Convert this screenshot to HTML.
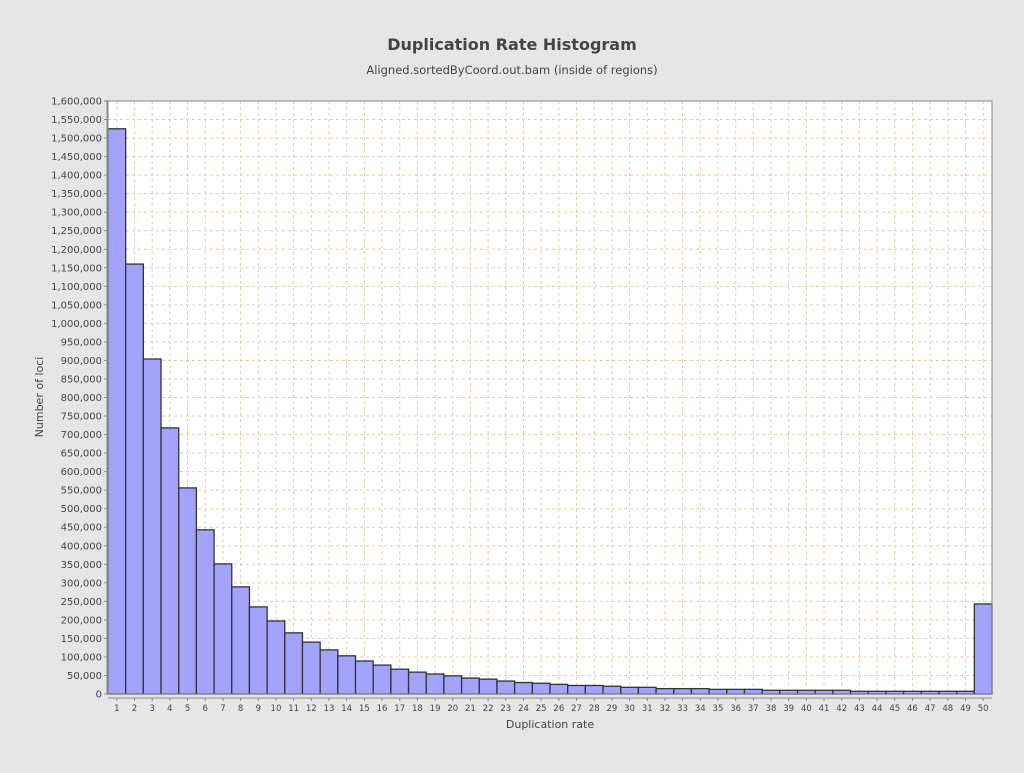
<!DOCTYPE html>
<html><head><meta charset="utf-8"><style>
body{margin:0;background:#e6e6e6;font-family:"Liberation Sans","DejaVu Sans",sans-serif;}
svg text{font-family:"DejaVu Sans","Liberation Sans",sans-serif;fill:#444;}
</style></head><body>
<svg id="chart" width="1024" height="768">
<rect width="1024" height="768" fill="#e6e6e6"/>
<text x="512" y="50" text-anchor="middle" font-size="16" font-weight="bold">Duplication Rate Histogram</text>
<text x="512" y="74" text-anchor="middle" font-size="11.5">Aligned.sortedByCoord.out.bam (inside of regions)</text>
<rect x="108" y="101" width="884" height="593" fill="#fff"/>
<g id="grid"></g><g id="bars"></g><g id="yaxis"></g><g id="xaxis"></g>
<rect x="108" y="101" width="884" height="593" fill="none" stroke="#888"/>
<text x="550" y="728" text-anchor="middle" font-size="11">Duplication rate</text>
<text transform="translate(43,397) rotate(-90)" text-anchor="middle" font-size="11">Number of loci</text>
</svg>
<script>
const categories=[1,2,3,4,5,6,7,8,9,10,11,12,13,14,15,16,17,18,19,20,21,22,23,24,25,26,27,28,29,30,31,32,33,34,35,36,37,38,39,40,41,42,43,44,45,46,47,48,49,50];
const values=[1525000,1160000,904000,718000,556000,443000,351000,289000,235000,197000,165000,140000,119000,103000,89000,78000,67000,59000,54000,49000,43000,40000,35000,31000,29000,26000,23000,23000,21000,18000,18000,14500,14500,14500,12500,12500,12500,10000,10000,10000,10000,10000,7300,7300,7300,7300,7300,7300,7300,243000];
const yTicks=[];for(let v=0;v<=1600000;v+=50000)yTicks.push(v);
const NS='http://www.w3.org/2000/svg';
const X0=108,X1=992,Y0=694,Y1=101,YMAX=1600000;
const bw=(X1-X0)/categories.length;
const xs=i=>X0+i*bw, ys=v=>Y0-(v/YMAX)*(Y0-Y1);
function mk(t,a,p){const e=document.createElementNS(NS,t);for(const k in a)e.setAttribute(k,a[k]);p.appendChild(e);return e;}
const grid=document.getElementById('grid'),bars=document.getElementById('bars'),ya=document.getElementById('yaxis'),xa=document.getElementById('xaxis');
yTicks.forEach(v=>{const y=ys(v);
 const g=mk('line',{x1:X0,x2:X1,y1:y,y2:y,stroke:(v%100000===0)?'#f0c8a8':'#d0d0d0','stroke-dasharray':'3,3'},grid);
 
 
 mk('line',{x1:X0-4,x2:X0,y1:y,y2:y,stroke:'#888'},ya);
 const t=mk('text',{x:X0-6,y:y+3.5,'text-anchor':'end','font-size':'10'},ya);t.textContent=v.toLocaleString('en-US');
 
 
});
mk('line',{x1:X0-1,x2:X0-1,y1:Y1,y2:Y0,stroke:'#888'},ya);
mk('line',{x1:X0,x2:X1,y1:Y0+4,y2:Y0+4,stroke:'#888'},xa);
categories.forEach((c,i)=>{const cx=xs(i)+bw/2;
 const g=mk('line',{x1:cx,x2:cx,y1:Y1,y2:Y0,stroke:'#f0c8a8','stroke-dasharray':'3,3'},grid);
 
 
 const b=mk('rect',{x:xs(i),y:ys(values[i]),width:bw,height:Y0-ys(values[i]),fill:'#a3a3fc',stroke:'#333','stroke-width':1.3},bars);
 
 
 mk('line',{x1:cx,x2:cx,y1:Y0+4,y2:Y0+7,stroke:'#888'},xa);
 const t=mk('text',{x:cx,y:Y0+17,'text-anchor':'middle','font-size':'8.5'},xa);t.textContent=c;
 
 
});
</script>
</body></html>
